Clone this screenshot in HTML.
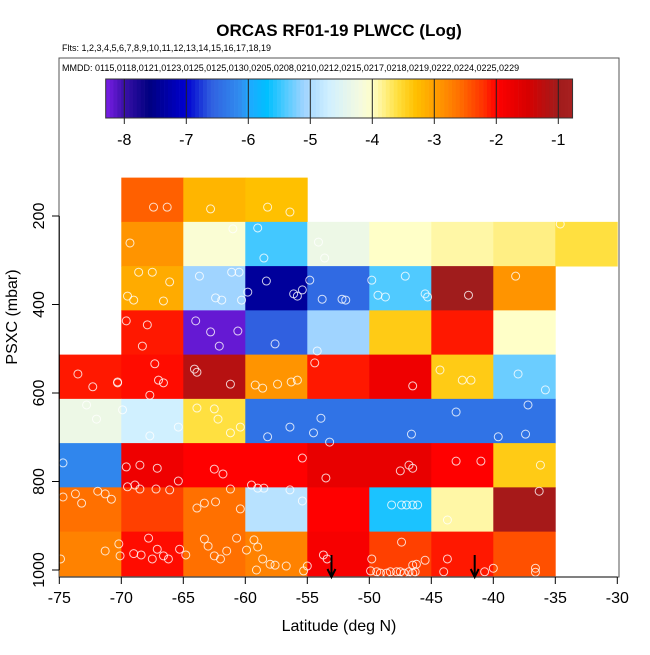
<!DOCTYPE html>
<html><head><meta charset="utf-8"><style>
body{margin:0;background:#fff;width:650px;height:650px;overflow:hidden}
svg text{font-family:"Liberation Sans",sans-serif}
</style></head><body>
<svg id="chart" width="650" height="650" xmlns="http://www.w3.org/2000/svg">
<text x="339" y="36" text-anchor="middle" font-size="17" font-weight="bold">ORCAS RF01-19 PLWCC (Log)</text>
<text x="62" y="51" font-size="9">Flts: 1,2,3,4,5,6,7,8,9,10,11,12,13,14,15,16,17,18,19</text>
<g id="cells"></g>
<g id="pts"></g>
<g id="arrows"></g>
<rect x="59" y="58" width="560" height="519" fill="none" stroke="#555" stroke-width="1"/>
<text x="62" y="71" font-size="9">MMDD: 0115,0118,0121,0123,0125,0125,0130,0205,0208,0210,0212,0215,0217,0218,0219,0222,0224,0225,0229</text>
<g id="cbar"></g>
<g id="xaxis"></g>
<g id="yaxis"></g>
<text x="339" y="631" text-anchor="middle" font-size="16">Latitude (deg N)</text>
<text x="0" y="0" transform="translate(17,317) rotate(-90)" text-anchor="middle" font-size="16">PSXC (mbar)</text>
</svg>
<script>
const latBins = [-75,-70,-65,-60,-55,-50,-45,-40,-35];
const presBins = [113.25,213.25,313.25,413.25,513.25,613.25,713.25,813.25,913.25];
// log values per row (pressure bin) and column (lat bin); null = no data
const row0 = [null,-2.5,-3.2,-3.3,null,null,null,null,null];
const row1 = [null,-2.9,-4.1,-5.45,-4.3,-4.0,-3.9,-3.8,-3.6];
const row2 = [null,-3.1,-5.1,-7.4,-6.5,-5.4,-1.0,-2.9,null];
const row3 = [null,-2.1,-8.2,-6.6,-5.1,-3.4,-2.1,-4.0,null];
const row4 = [-2.1,-2.05,-1.2,-2.9,-2.1,-1.8,-3.4,-5.3,null];
const row5 = [-4.3,-4.7,-3.6,-6.4,-6.4,-6.4,-6.4,-6.4,null];
const row6 = [-6.2,-1.8,-2.0,-2.0,-1.7,-1.7,-2.0,-3.4,null];
const row7 = [-2.6,-2.3,-2.6,-4.9,-2.0,-5.6,-3.9,-1.05,null];
const row8 = [-2.75,-2.05,-2.6,-2.75,-1.9,-2.3,-2.1,-2.4,null];
const rows = [row0,row1,row2,row3,row4,row5,row6,row7,row8];
const xTicks = [-75,-70,-65,-60,-55,-50,-45,-40,-35,-30];
const yTicks = [200,400,600,800,1000];
const cTicks = [-8,-7,-6,-5,-4,-3,-2,-1];
const arrowLats = [-53.05,-41.5];
const ptLat = [-67.4,-66.3,-62.8,-58.2,-56.4,-69.3,-61.0,-59.0,-58.5,-54.1,-53.6,-34.6,
-69.5,-68.6,-67.5,-66.1,-66.6,-69.0,-63.7,-62.4,-61.1,-60.5,-61.9,-60.3,-59.8,-58.3,-56.1,-55.8,-55.4,-54.8,-53.8,-52.2,-51.9,-49.8,-49.3,-47.1,-48.7,-45.5,-45.3,-42.0,-38.2,
-69.6,-67.9,-68.3,-64.0,-62.8,-62.1,-60.6,-57.6,-54.2,
-73.5,-72.3,-70.3,-70.3,-67.3,-67.0,-66.6,-67.7,-64.1,-63.9,-61.2,-59.2,-58.6,-57.4,-56.3,-55.8,-54.4,-46.5,-44.3,-42.5,-41.8,-38.0,-35.8,
-72.8,-72.0,-69.9,-67.7,-65.4,-63.9,-62.5,-62.2,-61.2,-60.4,-58.2,-56.4,-54.5,-53.2,-53.9,-46.6,-43.0,-39.6,-37.4,-37.2,
-74.7,-69.6,-68.5,-68.9,-67.1,-65.4,-62.5,-61.8,-61.2,-59.5,-55.4,-53.5,-47.5,-46.8,-46.5,-43.0,-41.0,-36.2,
-74.7,-73.7,-73.2,-71.9,-71.3,-70.8,-69.5,-68.5,-67.2,-66.1,-63.9,-63.3,-62.4,-60.4,-59.0,-58.5,-56.4,-55.4,-48.2,-47.4,-47.0,-46.5,-46.1,-43.7,-36.3,
-74.9,-71.3,-70.2,-70.1,-69.0,-68.4,-67.8,-67.5,-67.1,-66.6,-66.2,-65.3,-64.8,-63.3,-63.0,-62.5,-62.0,-61.5,-60.7,-59.9,-59.3,-59.0,-58.6,-59.1,-58.0,-57.6,-56.7,-55.0,-55.3,-53.7,-53.4,-49.8,-49.9,-49.4,-49.1,-48.6,-48.3,-47.8,-47.5,-47.2,-46.8,-46.5,-46.3,-46.5,-46.2,-47.4,-45.5,-44.0,-43.7,-40.7,-40.0,-36.6,-36.6];
const ptP = [180,180,184,180,191,261,229,227,295,259,295,218,
381,327,327,349,392,390,336,385,327,327,390,390,372,347,376,381,367,345,388,388,390,345,379,336,383,376,383,379,336,
437,446,494,437,462,494,460,489,505,
557,586,575,577,534,571,577,605,546,553,580,582,589,580,575,571,532,584,548,571,571,557,593,
627,659,638,697,677,634,636,659,690,677,699,677,690,711,657,693,643,699,693,627,
758,767,763,808,770,799,772,783,817,808,747,792,776,763,770,754,754,763,
835,828,849,822,828,840,812,817,817,819,860,849,846,862,815,815,819,844,853,853,853,853,853,887,822,
975,957,941,968,963,966,928,975,953,968,975,953,966,930,946,968,975,957,928,955,932,948,975,1000,987,989,991,991,1002,966,975,975,1002,1004,1007,1007,1004,1004,1004,1007,1004,1007,1004,989,987,937,978,1004,975,1004,996,996,1005];

const cmapV = [-8.3,-8.0,-7.6,-7.0,-6.6,-6.1,-6.0,-5.7,-5.1,-4.7,-4.2,-4.0,-3.6,-3.3,-3.0,-2.6,-2.2,-2.0,-1.5,-1.0,-0.77];
const cmapC = ['#7a1de8','#3a10a8','#000080','#0000d0','#3060e0','#3090f0','#20a8ff','#00c0ff','#a0d4ff','#d0f0ff','#f4fae0','#ffffc8','#ffe040','#ffc000','#ffa000','#ff7000','#ff3000','#ff0000','#d80000','#a01c1c','#a82020'];
function hex(h){return [1,3,5].map(i=>parseInt(h.substr(i,2),16));}
function cmap(v){
  if(v<=cmapV[0])return cmapC[0];
  for(let i=1;i<cmapV.length;i++){
    if(v<=cmapV[i]){const t=(v-cmapV[i-1])/(cmapV[i]-cmapV[i-1]);const a=hex(cmapC[i-1]),b=hex(cmapC[i]);
      return 'rgb('+a.map((x,k)=>Math.round(x+(b[k]-x)*t)).join(',')+')';}
  }
  return cmapC[cmapC.length-1];
}
const X = lat => 59.3 + (lat+75)*12.4;
const Y = p => 216 + (p-200)*0.4425;
const C = v => 124.3 + (v+8)*62;
const NS='http://www.w3.org/2000/svg';
function mk(tag,attrs,parent){const e=document.createElementNS(NS,tag);for(const k in attrs)e.setAttribute(k,attrs[k]);parent.appendChild(e);return e;}

const gc=document.getElementById('cells');
rows.forEach((row,ri)=>{row.forEach((v,ci)=>{
  if(v===null)return;
  const x0=X(latBins[ci]),x1=X(latBins[ci]+5),y0=Y(presBins[ri]),y1=Y(presBins[ri]+100);
  const r=mk('rect',{x:x0,y:y0,width:x1-x0+0.4,height:y1-y0+0.4,fill:cmap(v)},gc);
  
  
});});

const gp=document.getElementById('pts');
ptLat.forEach((la,i)=>{
  const c=mk('circle',{cx:X(la),cy:Y(ptP[i]),r:4,fill:'none',stroke:'#fff','stroke-opacity':0.8,'stroke-width':1},gp);
  
  
});

const ga=document.getElementById('arrows');
arrowLats.forEach(la=>{
  const x=X(la);
  const g=mk('g',{},ga);
  
  
  mk('line',{x1:x,y1:555,x2:x,y2:576,stroke:'#000','stroke-width':2},g);
  mk('path',{d:`M${x-4},${569} L${x},${577} L${x+4},${569}`,fill:'none',stroke:'#000','stroke-width':2},g);
});

const gb=document.getElementById('cbar');
const n=120;
for(let i=0;i<n;i++){
  const v0=-8.3+(7.53)*i/n, v1=-8.3+7.53*(i+1)/n;
  mk('rect',{x:C(v0),y:79,width:C(v1)-C(v0)+0.3,height:39,fill:cmap((v0+v1)/2)},gb);
}
mk('rect',{x:C(-8.3),y:79,width:C(-0.77)-C(-8.3),height:39,fill:'none',stroke:'#333','stroke-width':1},gb);
cTicks.forEach(t=>{
  const x=C(t);
  mk('line',{x1:x,y1:79,x2:x,y2:124,stroke:'#222','stroke-width':1},gb);
  const tx=mk('text',{x:x,y:145,'text-anchor':'middle','font-size':16},gb);
  tx.textContent=String(t);
  
  
});

const gx=document.getElementById('xaxis');
mk('line',{x1:X(-75),y1:577,x2:X(-30),y2:577,stroke:'#000','stroke-width':1},gx);
xTicks.forEach(t=>{
  const x=X(t);
  mk('line',{x1:x,y1:577,x2:x,y2:584,stroke:'#000'},gx);
  const tx=mk('text',{x:x,y:603,'text-anchor':'middle','font-size':16},gx);
  tx.textContent=t;
  
  
});
const gy=document.getElementById('yaxis');
mk('line',{x1:59.3,y1:Y(200),x2:59.3,y2:Y(1000),stroke:'#000','stroke-width':1},gy);
yTicks.forEach(t=>{
  const y=Y(t);
  mk('line',{x1:52,y1:y,x2:59.3,y2:y,stroke:'#000'},gy);
  const tx=mk('text',{x:0,y:0,transform:`translate(44,${y}) rotate(-90)`,'text-anchor':'middle','font-size':16},gy);
  tx.textContent=t;
  
  
});
</script>
</body></html>
